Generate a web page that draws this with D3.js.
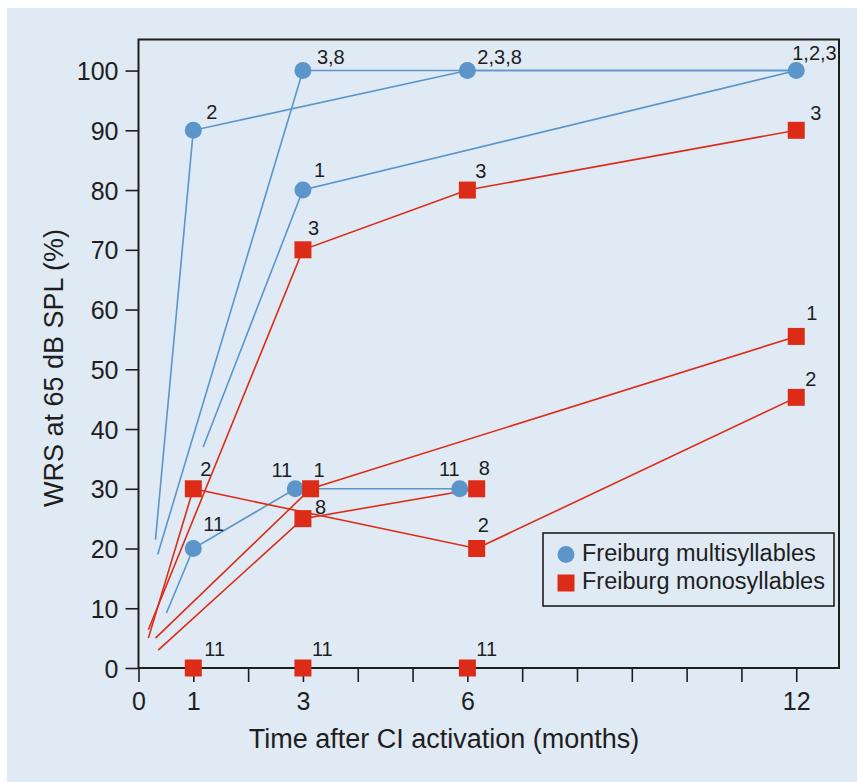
<!DOCTYPE html>
<html>
<head>
<meta charset="utf-8">
<script src="https://cdn.jsdelivr.net/npm/d3@7"></script>
<style>
  html, body { margin: 0; padding: 0; background: #fff; }
  svg { display: block; font-family: "Liberation Sans", Arial, sans-serif; }
</style>
</head>
<body>
<div id="chart"></div>
<script>
// tick values / labels
const yTicks = [0, 10, 20, 30, 40, 50, 60, 70, 80, 90, 100];
const xTicks = [0, 1, 2, 3, 4, 5, 6, 7, 8, 9, 10, 11, 12];
const xLabels = [0, 1, 3, 6, 12];

// Freiburg multisyllables, one track per patient group: [month, score]
const multiP2 = [[0.31, 21.5], [1, 90], [6, 100], [12, 100]];
const multiP38 = [[0.35, 19], [3, 100], [6, 100], [12, 100]];
const multiP1 = [[1.18, 37], [3, 80], [12, 100]];
const multiP11 = [[0.51, 9.2], [1, 20], [2.86, 30], [5.86, 30]];

// Freiburg monosyllables
const monoP3 = [[0.18, 6.4], [3, 70], [6, 80], [12, 90]];
const monoP2 = [[0.18, 5.0], [1, 30], [6.17, 20], [12, 45.3]];
const monoP1 = [[0.31, 5.0], [3.14, 30], [12, 55.5]];
const monoP8 = [[0.36, 3.0], [3, 25], [6.17, 30]];

// markers: [month, score, patient label]
const multiPoints = [
  [1, 90, "2"], [3, 100, "3,8"], [6, 100, "2,3,8"], [12, 100, "1,2,3"],
  [3, 80, "1"], [1, 20, "11"], [2.86, 30, "11"], [5.86, 30, "11"]
];
const monoPoints = [
  [3, 70, "3"], [6, 80, "3"], [12, 90, "3"],
  [1, 30, "2"], [6.17, 20, "2"], [12, 45.3, "2"],
  [3.14, 30, "1"], [12, 55.5, "1"],
  [3, 25, "8"], [6.17, 30, "8"],
  [1, 0, "11"], [3, 0, "11"], [6, 0, "11"]
];

// label placement (px offsets from the marker, anchor)
const multiLabelPos = [
  [13, -11, "start"], [14, -7, "start"], [10, -7, "start"], [-4, -11, "start"],
  [11, -13, "start"], [10, -18, "start"], [-3, -12, "end"], [0, -13, "end"]
];
const monoLabelPos = [
  [5, -15, "start"], [8, -12, "start"], [14, -10, "start"],
  [7, -13, "start"], [1, -17, "start"], [9, -11, "start"],
  [3, -12, "start"], [10, -16, "start"],
  [12, -5, "start"], [2, -14, "start"],
  [11, -12, "start"], [9, -12, "start"], [9, -12, "start"]
];

const blue = "#5b95c9", red = "#dc2c17", ink = "#1e1e1e", bg = "#e0eaf4";

const W = 857, H = 782;
const svg = d3.select("#chart").append("svg").attr("width", W).attr("height", H);

svg.append("rect").attr("x", 7).attr("y", 8).attr("width", W - 7).attr("height", H - 8).attr("fill", bg);

const x = d3.scaleLinear().domain([0, 12.78]).range([138.5, 839]);
const y = d3.scaleLinear().domain([0, 105.2]).range([668, 39.5]);

// Y axis
const gy = svg.append("g")
    .attr("transform", "translate(" + x(0) + ",0)")
    .call(d3.axisLeft(y).tickValues(yTicks).tickSize(13).tickPadding(7));
gy.select(".domain").remove();
gy.selectAll("line").attr("stroke", ink).attr("stroke-width", 1.6);
gy.selectAll("text").attr("fill", ink).style("font-size", "25px").attr("dy", "0.36em");

// X axis
const gx = svg.append("g")
    .attr("transform", "translate(0," + y(0) + ")")
    .call(d3.axisBottom(x).tickValues(xTicks).tickSize(14).tickPadding(10)
        .tickFormat(d => xLabels.includes(d) ? d : ""));
gx.select(".domain").remove();
gx.selectAll("line").attr("stroke", ink).attr("stroke-width", 1.6);
gx.selectAll("text").attr("fill", ink).style("font-size", "25px");

// frame
svg.append("rect")
    .attr("x", x(0)).attr("y", y(105.2))
    .attr("width", x(12.78) - x(0)).attr("height", y(0) - y(105.2))
    .attr("fill", "none").attr("stroke", ink).attr("stroke-width", 2);

// titles
svg.append("text")
    .attr("transform", "translate(63,368) rotate(-90)")
    .attr("text-anchor", "middle").attr("fill", ink)
    .style("font-size", "27px")
    .text("WRS at 65 dB SPL (%)");
svg.append("text")
    .attr("x", 444).attr("y", 748)
    .attr("text-anchor", "middle").attr("fill", ink)
    .style("font-size", "27px")
    .text("Time after CI activation (months)");

// lines
const line = d3.line().x(d => x(d[0])).y(d => y(d[1]));
const plot = svg.append("g");
[multiP2, multiP38, multiP1, multiP11].forEach(s => {
  plot.append("path").attr("d", line(s)).attr("fill", "none")
      .attr("stroke", blue).attr("stroke-width", 1.6);
});
[monoP3, monoP2, monoP1, monoP8].forEach(s => {
  plot.append("path").attr("d", line(s)).attr("fill", "none")
      .attr("stroke", red).attr("stroke-width", 1.6);
});

// markers
plot.selectAll(".multi").data(multiPoints).enter().append("circle")
    .attr("class", "multi")
    .attr("cx", d => x(d[0])).attr("cy", d => y(d[1])).attr("r", 8.5)
    .attr("fill", blue);
const sq = 17;
plot.selectAll(".mono").data(monoPoints).enter().append("rect")
    .attr("class", "mono")
    .attr("x", d => x(d[0]) - sq / 2).attr("y", d => y(d[1]) - sq / 2)
    .attr("width", sq).attr("height", sq)
    .attr("fill", red);

// point labels
function labels(points, pos) {
  plot.selectAll(null).data(points).enter().append("text")
      .attr("x", (d, i) => x(d[0]) + pos[i][0])
      .attr("y", (d, i) => y(d[1]) + pos[i][1])
      .attr("text-anchor", (d, i) => pos[i][2])
      .attr("fill", ink)
      .style("font-size", "20px")
      .text(d => d[2]);
}
labels(multiPoints, multiLabelPos);
labels(monoPoints, monoLabelPos);

// legend
const lg = svg.append("g");
lg.append("rect").attr("x", 543).attr("y", 533).attr("width", 291).attr("height", 73)
    .attr("fill", bg).attr("stroke", ink).attr("stroke-width", 1.6);
lg.append("circle").attr("cx", 566).attr("cy", 554.5).attr("r", 8.5).attr("fill", blue);
lg.append("rect").attr("x", 566 - sq / 2).attr("y", 583 - sq / 2).attr("width", sq).attr("height", sq).attr("fill", red);
lg.append("text").attr("x", 582).attr("y", 561).attr("fill", ink).style("font-size", "23.5px")
    .text("Freiburg multisyllables");
lg.append("text").attr("x", 582).attr("y", 589).attr("fill", ink).style("font-size", "23.5px")
    .text("Freiburg monosyllables");
</script>
</body>
</html>
